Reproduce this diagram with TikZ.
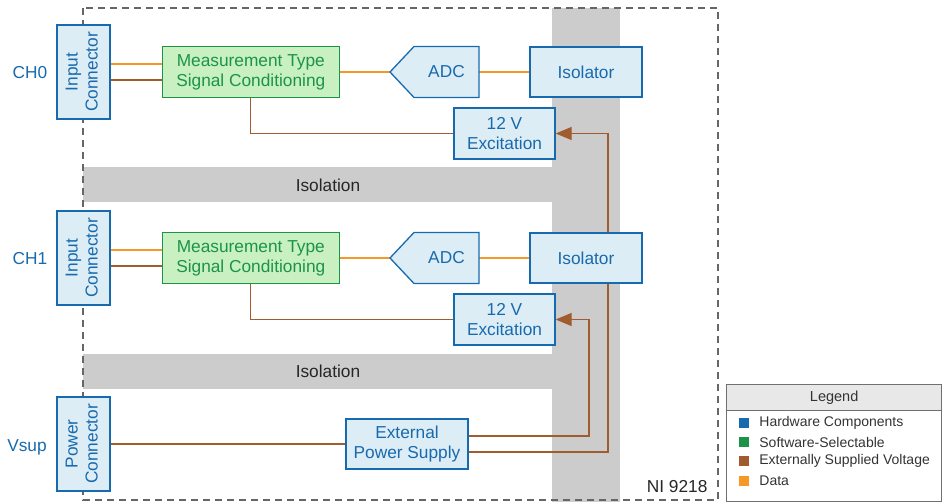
\documentclass[tikz,border=0pt]{standalone}
\usepackage{fontspec}
\setmainfont{Liberation Sans}
\usetikzlibrary{arrows.meta, positioning}

\definecolor{hwblue}{RGB}{24,106,174}
\definecolor{hwfill}{RGB}{221,237,246}
\definecolor{swgreen}{RGB}{28,148,72}
\definecolor{swfill}{RGB}{200,240,192}
\definecolor{voltbrown}{RGB}{160,92,46}
\definecolor{dataorange}{RGB}{245,152,40}
\definecolor{isogray}{RGB}{204,204,204}
\definecolor{legendgray}{RGB}{112,112,112}

\newcommand{\uptext}[1]{\rotatebox{90}{\begin{tabular}{@{}c@{}}#1\end{tabular}}}

\pgfdeclarelayer{bg}
\pgfdeclarelayer{wires}
\pgfsetlayers{bg,wires,main}

\begin{document}
\begin{tikzpicture}[x=1pt, y=-1pt,
        font=\fontsize{17.3}{20}\selectfont,
        hwbox/.style = {draw=hwblue, fill=hwfill, text=hwblue, line width=1.3pt, align=center, inner sep=0pt},
        conbox/.style = {hwbox, minimum width=53pt, minimum height=94pt},
        swbox/.style = {draw=swgreen, fill=swfill, text=swgreen, line width=1.3pt, align=center, inner sep=0pt,
                        minimum width=177pt, minimum height=51pt},
        adcshape/.style = {draw=hwblue, fill=hwfill, line width=1.3pt},
        adclabel/.style = {text=hwblue, inner sep=0pt, minimum width=65pt, minimum height=51pt},
        datawire/.style = {draw=dataorange, line width=1.3pt},
        voltwire/.style = {draw=voltbrown, line width=1.3pt},
        feed/.style = {voltwire, -{Triangle[length=16pt, width=13pt]}},
        modulebox/.style = {draw=black!60, line width=1.3pt, dash pattern=on 7pt off 5pt},
        chlabel/.style = {text=hwblue},
        legendkey/.style = {minimum size=10pt, inner sep=0pt},
        legendtext/.style = {text=black!80, inner sep=0pt, font=\fontsize{14}{16}\selectfont},
    ]
    \useasboundingbox (0,0) rectangle (943,502);
    % isolation barriers and module outline
    \begin{pgfonlayer}{bg}
        \fill[isogray] (552,8) rectangle (620,502);
        \fill[isogray] (83,167) rectangle (552,202);
        \fill[isogray] (83,354) rectangle (552,389);
        \draw[modulebox] (83,8) rectangle (718,500);
    \end{pgfonlayer}
    \node[text=black!85]                                (isolation0) at (328,185) {Isolation};
    \node[text=black!85]                                (isolation1) at (328,371) {Isolation};
    \node[text=black!85, anchor=east]                   (module) at (711,487) {NI 9218};
    %
    % channel 0
    \node[chlabel]                                      (ch0) at (30,73) {CH0};
    \node[conbox]                                       (in0) at (83.5,72) {\uptext{Input\\Connector}};
    \node[swbox, right=51pt of in0]                     (sc0) {Measurement Type\\Signal Conditioning};
    \draw[adcshape] (390,72) coordinate (adc0tip) -- (414,46.5) -- (479,46.5) -- (479,97.5) -- (414,97.5) -- cycle;
    \node[adclabel]                                     (adc0) at (446.5,72) {ADC};
    \node[hwbox, minimum width=112pt, minimum height=50pt] (iso0) at (586,72) {Isolator};
    \node[hwbox, minimum width=101pt, minimum height=51pt] (exc0) at (504.5,133.5) {12 V\\Excitation};
    %
    % channel 1
    \node[chlabel]                                      (ch1) at (30,259) {CH1};
    \node[conbox]                                       (in1) at (83.5,258) {\uptext{Input\\Connector}};
    \node[swbox, right=51pt of in1]                     (sc1) {Measurement Type\\Signal Conditioning};
    \draw[adcshape] (390,258) coordinate (adc1tip) -- (414,232.5) -- (479,232.5) -- (479,283.5) -- (414,283.5) -- cycle;
    \node[adclabel]                                     (adc1) at (446.5,258) {ADC};
    \node[hwbox, minimum width=112pt, minimum height=50pt] (iso1) at (586,258) {Isolator};
    \node[hwbox, minimum width=101pt, minimum height=51pt] (exc1) at (504.5,319.5) {12 V\\Excitation};
    %
    % power
    \node[chlabel]                                      (vsup) at (27,447) {Vsup};
    \node[conbox]                                       (pc) at (83.5,444) {\uptext{Power\\Connector}};
    \node[hwbox, minimum width=122pt, minimum height=50pt] (eps) at (407,444) {External\\Power Supply};
    \coordinate                                         (bus0) at (608,0);
    \coordinate                                         (bus1) at (589,0);
    %
    \begin{pgfonlayer}{wires}
        \draw[datawire]  ([yshift=8pt]in0.east) -- ([yshift=8pt]in0.east -| sc0.west);
        \draw[voltwire]  ([yshift=-8pt]in0.east) -- ([yshift=-8pt]in0.east -| sc0.west);
        \draw[datawire]  (sc0.east) -- (adc0tip);
        \draw[datawire]  (adc0.east) -- (iso0.west);
        \draw[voltwire]  (sc0.south) |- (exc0.west);
        %
        \draw[datawire]  ([yshift=8pt]in1.east) -- ([yshift=8pt]in1.east -| sc1.west);
        \draw[voltwire]  ([yshift=-8pt]in1.east) -- ([yshift=-8pt]in1.east -| sc1.west);
        \draw[datawire]  (sc1.east) -- (adc1tip);
        \draw[datawire]  (adc1.east) -- (iso1.west);
        \draw[voltwire]  (sc1.south) |- (exc1.west);
        %
        \draw[voltwire]  (pc.east) -- (eps.west);
        \draw[feed]      ([yshift=-8pt]eps.east) -| (bus0 |- exc0.east) -- (exc0.east);
        \draw[feed]      ([yshift=8pt]eps.east) -| (bus1 |- exc1.east) -- (exc1.east);
    \end{pgfonlayer}
    %
    % legend
    \node[draw=legendgray, line width=1.3pt, minimum width=215pt, minimum height=117pt, anchor=north west] (legend) at (726,384) {};
    \node[draw=legendgray, fill=black!9, text=black!80, line width=1.3pt, minimum width=215pt, minimum height=26pt,
          anchor=north west, font=\fontsize{14.5}{17}\selectfont] (legendhead) at (726,384) {Legend};
    \node[legendkey, fill=hwblue]                       (keyhw) at (744,423) {};
    \node[legendtext, right=10pt of keyhw]              (texthw) {Hardware Components};
    \node[legendkey, fill=swgreen]                      (keysw) at (744,442) {};
    \node[legendtext, right=10pt of keysw]              (textsw) {Software-Selectable};
    \node[legendkey, fill=voltbrown]                    (keyvolt) at (744,461) {};
    \node[legendtext, right=10pt of keyvolt]            (textvolt) {Externally Supplied Voltage};
    \node[legendkey, fill=dataorange]                   (keydata) at (744,481) {};
    \node[legendtext, right=10pt of keydata]            (textdata) {Data};
\end{tikzpicture}
\end{document}
